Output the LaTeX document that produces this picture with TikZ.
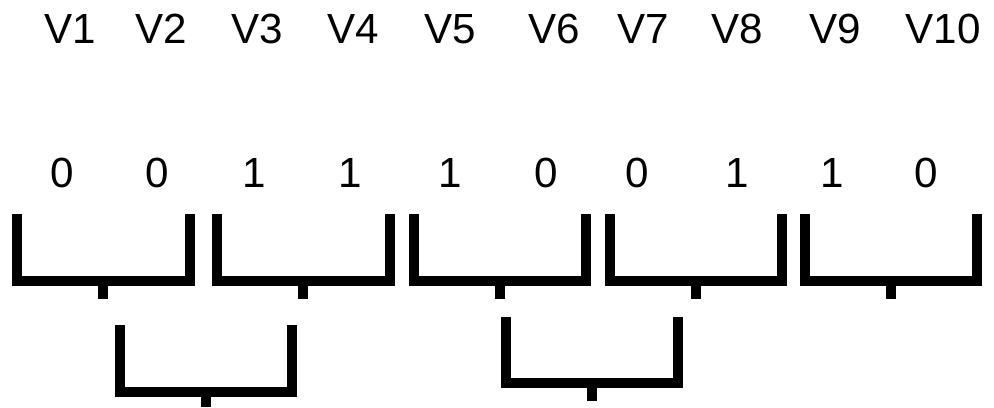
\documentclass[tikz,border=0pt]{standalone}
\usepackage{fontspec}
\setmainfont{Liberation Sans}
\begin{document}
\begin{tikzpicture}[x=0.02cm,y=-0.02cm]
\tikzset{lbl/.style={anchor=base, inner sep=0pt, font=\fontsize{24}{28}\selectfont},
  bracket/.style={line width=0.2cm, line cap=butt, line join=miter}}
\useasboundingbox (0,0) rectangle (994,407);
% variable names
\foreach \x/\n in {70/1,161/2,257/3,353/4,450/5,554/6,643/7,737/8,835/9,943/10}
  \node[lbl] (v\n) at (\x,43) {V\n};
% values
\foreach \x/\n/\b in {62/1/0,157/2/0,254/3/1,350/4/1,450/5/1,546/6/0,637/7/0,737/8/1,832/9/1,926/10/0}
  \node[lbl] (b\n) at (\x,187) {\b};
% first level pairs
\foreach \l/\r in {17/189.5,217/389.5,414/585.5,610/782,805/977} {
  \draw[bracket] (\l,214) |- (\r,281) -- (\r,214);
  \draw[bracket] ({(\l+\r)/2},281) -- ++(0,18);
}
% second level pairs
\draw[bracket] (120,325) |- (291.5,392) -- (291.5,325);
\draw[bracket] (205.75,392) -- (205.75,407);
\draw[bracket] (506,317) |- (678,383) -- (678,317);
\draw[bracket] (592,383) -- (592,401);
\end{tikzpicture}
\end{document}
